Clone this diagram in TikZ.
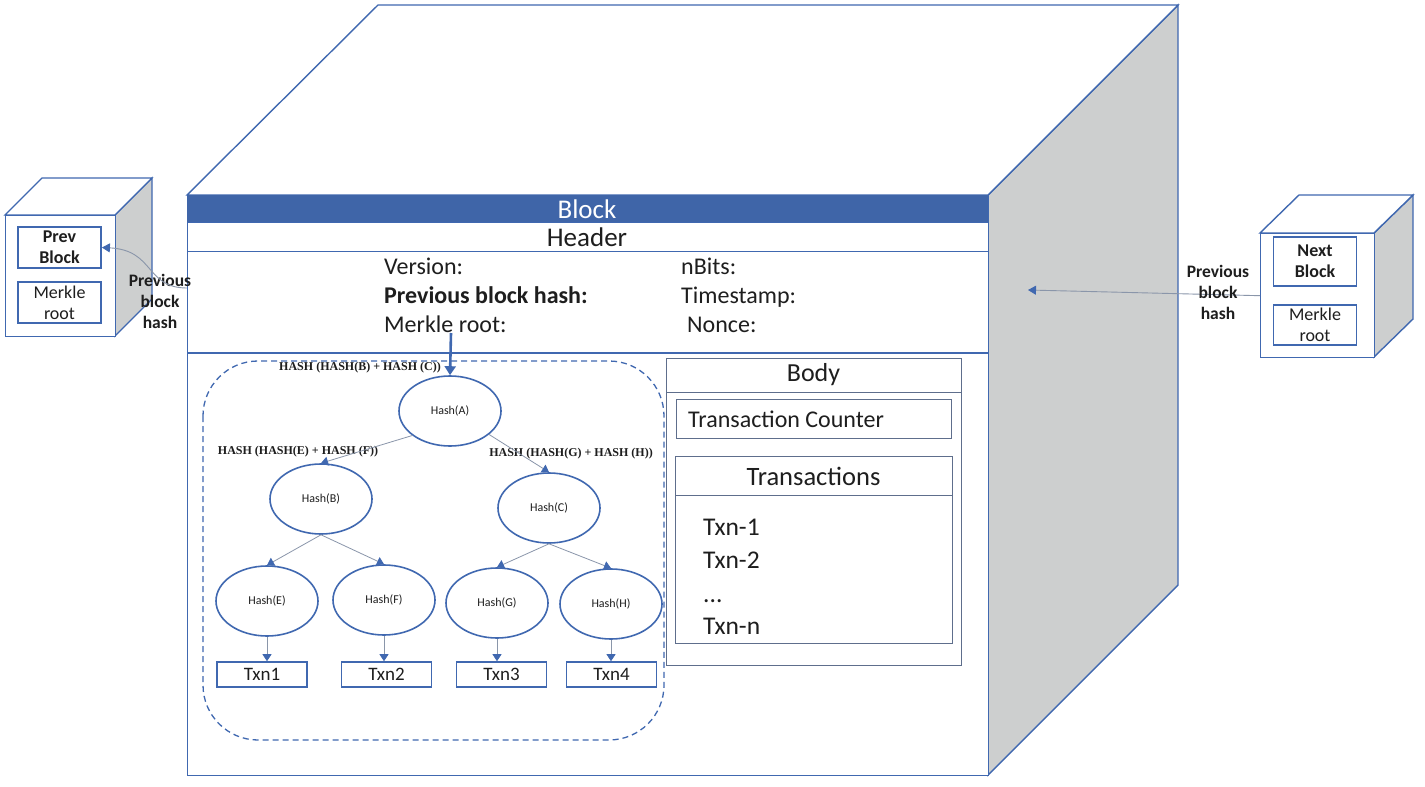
\documentclass[tikz,border=0pt]{standalone}
\usepackage{fontspec}
\setmainfont{Carlito}
\newfontfamily\serifb{Liberation Serif}
\usetikzlibrary{shapes.geometric,arrows.meta}
\definecolor{cblue}{HTML}{4068B0}
\definecolor{barblue}{HTML}{3F65A8}
\definecolor{cgray}{HTML}{CDCFCF}
\definecolor{edgegray}{HTML}{8A96AA}
\definecolor{boxgray}{HTML}{5E6E8C}
\definecolor{ink}{HTML}{1E1E1E}
\newcommand\fs[1]{\fontsize{#1}{#1}\selectfont}
\tikzset{
  cubeline/.style={draw=cblue, line width=1.4pt, line join=miter},
  hashnode/.style={ellipse, draw=cblue, line width=1.6pt, minimum width=102pt, minimum height=70pt, inner sep=0pt, font=\fs{12}, fill=white, text=ink},
  txnbox/.style={draw=cblue, line width=1.6pt, minimum width=90pt, minimum height=25pt, inner sep=0pt, font=\fs{19}, text=ink},
  hashlbl/.style={inner sep=0pt, font=\serifb\bfseries\fs{12}, text=ink},
  treeedge/.style={draw=edgegray, line width=0.8pt, -{Triangle[width=9pt,length=7pt,color=cblue]}},
  hdrtxt/.style={inner sep=0pt, anchor=base west, font=\fs{24}, text=ink},
  smallbox/.style={draw=cblue, line width=1.8pt, minimum width=83pt, inner sep=0pt, text=ink, align=center},
  sidelbl/.style={inner sep=0pt, font=\bfseries\fontsize{17.5}{21}\selectfont, text=ink, align=center},
  bodybox/.style={draw=boxgray, line width=1pt, inner sep=0pt, anchor=north west},
  bodytxt/.style={inner sep=0pt, anchor=base west, font=\fs{25.5}, text=ink}
}
\begin{document}
\begin{tikzpicture}[x=1pt,y=-1pt]
\useasboundingbox (0,0) rectangle (1425,787);
\fill[white] (0,0) rectangle (1425,787);

% ---------- big cube ----------
\draw[cubeline, fill=cgray] (988,195) -- (1178,5) -- (1178,585) -- (988,775) -- cycle;
\draw[cubeline, fill=white] (187,195) -- (378,5) -- (1178,5) -- (988,195) -- cycle;
\node[cubeline, fill=white, minimum width=801pt, minimum height=580pt, inner sep=0pt, anchor=north west] (bigfront) at (187,195) {};
\fill[barblue] (187,195) rectangle (988,222);
\draw[cblue, line width=1pt] (187,222) -- (988,222);
\draw[cblue, line width=1pt] (187,251) -- (988,251);
\draw[cblue, line width=1.6pt] (187,353) -- (988,353);
\node[inner sep=0pt, font=\fs{27}, text=white] (block) at (587,209) {Block};
\node[inner sep=0pt, font=\fs{27}, text=ink] (header) at (587,237) {Header};
\node[hdrtxt] (ver) at (384,274) {Version:};
\node[hdrtxt, font=\bfseries\fs{24}] (prevh) at (384,303) {Previous block hash:};
\node[hdrtxt] (mroot) at (384,332) {Merkle root:};
\node[hdrtxt] (nbits) at (681,274) {nBits:};
\node[hdrtxt] (tstamp) at (681,303) {Timestamp:};
\node[hdrtxt] (nonce) at (687,332) {Nonce:};

% ---------- merkle tree ----------
\draw[cblue, line width=1.3pt, dash pattern=on 6pt off 4pt, rounded corners=55pt] (203,361) rectangle (664,740);
\node[hashnode] (A) at (450,411) {Hash(A)};
\node[hashnode] (B) at (321,499) {Hash(B)};
\node[hashnode] (C) at (549,508) {Hash(C)};
\node[hashnode] (E) at (267,601) {Hash(E)};
\node[hashnode] (F) at (384,600) {Hash(F)};
\node[hashnode] (G) at (497,603) {Hash(G)};
\node[hashnode] (H) at (611,604) {Hash(H)};
\node[txnbox] (T1) at (262,674.5) {Txn1};
\node[txnbox] (T2) at (386.5,674.5) {Txn2};
\node[txnbox] (T3) at (501.5,674.5) {Txn3};
\node[txnbox] (T4) at (611.5,674.5) {Txn4};
\node[hashlbl] (lA) at (360,368) {HASH (HASH(B) + HASH (C))};
\node[hashlbl] (lB) at (298,452) {HASH (HASH(E) + HASH (F))};
\node[hashlbl] (lC) at (571,454) {HASH (HASH(G) + HASH (H))};

\coordinate (mr) at (451,333);
\draw[cblue, line width=2.6pt, -{Triangle[width=11pt,length=9pt]}] (mr) -- (A.north);
\draw[treeedge] (A.213) -- (B.north);
\draw[treeedge] (A.329) -- (C.north);
\draw[treeedge] (B.south) -- (E.north);
\draw[treeedge] (B.south) -- (F.north);
\draw[treeedge] (C.south) -- (G.north);
\draw[treeedge] (C.south) -- (H.north);
\draw[treeedge] (E.south) -- (E.south |- T1.north);
\draw[treeedge] (F.south) -- (F.south |- T2.north);
\draw[treeedge] (G.south) -- (G.south |- T3.north);
\draw[treeedge] (H.south) -- (H.south |- T4.north);

% ---------- body ----------
\node[bodybox, minimum width=295pt, minimum height=307pt] (body) at (666,358) {};
\draw[boxgray, line width=1pt] (666,392) -- (961,392);
\node[inner sep=0pt, font=\fs{26}, text=ink] (bodyt) at (813.5,375) {Body};
\node[bodybox, minimum width=275pt, minimum height=39pt] (tc) at (676,399) {};
\node[bodytxt, font=\fs{24}] (tct) at (688,427) {Transaction Counter};
\node[bodybox, minimum width=277pt, minimum height=187pt] (txs) at (675,456) {};
\draw[boxgray, line width=1pt] (675,495) -- (952,495);
\node[inner sep=0pt, font=\fs{26.5}, text=ink] (txst) at (813.5,476) {Transactions};
\node[bodytxt] (tx1) at (703,535) {Txn-1};
\node[bodytxt] (tx2) at (703,568) {Txn-2};
\node[bodytxt] (txd) at (703,602) {...};
\node[bodytxt] (txn) at (703,634) {Txn-n};

% ---------- left small cube ----------
\draw[cubeline, fill=cgray] (115,215) -- (152,178) -- (152,299) -- (115,336) -- cycle;
\draw[cubeline, fill=white] (5,215) -- (42,178) -- (152,178) -- (115,215) -- cycle;
\node[cubeline, fill=white, minimum width=110pt, minimum height=121pt, inner sep=0pt, anchor=north west] (pcube) at (5,215) {};
\node[smallbox, minimum height=41pt, font=\bfseries\fontsize{18}{21}\selectfont] (prevb) at (59.5,247.5) {Prev\\Block};
\node[smallbox, minimum height=41pt, font=\fontsize{18}{21}\selectfont] (pmr) at (59.5,302.5) {Merkle\\root};
\node[sidelbl] (lpl) at (160,301) {Previous\\block\\hash};
\coordinate (lstart) at (187,288);
\draw[edgegray, line width=0.9pt, -{Triangle[width=9pt,length=8pt,color=cblue]}] (lstart) .. controls (145,288) and (155,250) .. (prevb.east);

% ---------- right small cube ----------
\draw[cubeline, fill=cgray] (1374,233) -- (1413,195) -- (1413,319) -- (1374,357) -- cycle;
\draw[cubeline, fill=white] (1260,233) -- (1299,195) -- (1413,195) -- (1374,233) -- cycle;
\node[cubeline, fill=white, minimum width=114pt, minimum height=124pt, inner sep=0pt, anchor=north west] (ncube) at (1260,233) {};
\node[smallbox, minimum height=49pt, font=\bfseries\fontsize{18}{21}\selectfont] (nextb) at (1315,261.5) {Next\\Block};
\node[smallbox, minimum height=40pt, font=\fontsize{18}{21}\selectfont] (nmr) at (1315,325) {Merkle\\root};
\coordinate (rend) at (1028,290);
\draw[edgegray, line width=0.9pt, -{Triangle[width=9pt,length=8pt,color=cblue]}] (ncube.west) -- (rend);
\node[sidelbl] (rpl) at (1218,292) {Previous\\block\\hash};
\end{tikzpicture}
\end{document}
